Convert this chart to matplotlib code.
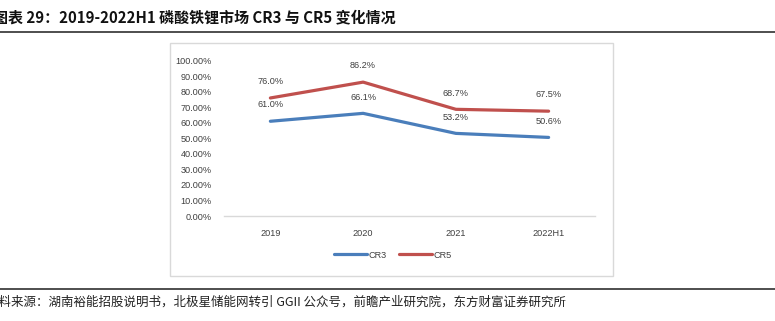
import matplotlib.pyplot as plt
from matplotlib.patches import Rectangle
from matplotlib.lines import Line2D

# 数据
years = ["2019", "2020", "2021", "2022H1"]
cr3 = [61.0, 66.1, 53.2, 50.6]
cr5 = [76.0, 86.2, 68.7, 67.5]
yticks = [0, 10, 20, 30, 40, 50, 60, 70, 80, 90, 100]

blue = "#4A7EBB"
red = "#C0504D"
W, H = 775, 321
fs = 6.6

fig = plt.figure(figsize=(W / 100, H / 100), dpi=100)

# 标题与上下分隔线
fig.text(-7 / W, 1 - 17 / H, "图表 29：2019-2022H1 磷酸铁锂市场 CR3 与 CR5 变化情况",
         family=["Noto Sans CJK SC", "DejaVu Sans"], fontsize=10.8, weight="bold",
         va="center", ha="left", color="#111111")
fig.add_artist(Line2D([0, 1], [1 - 31.5 / H] * 2, color="#404040", lw=1.3))
fig.add_artist(Line2D([0, 1], [1 - 289 / H] * 2, color="#404040", lw=1.3))
fig.text(-14 / W, 1 - 302 / H,
         "资料来源：湖南裕能招股说明书，北极星储能网转引 GGII 公众号，前瞻产业研究院，东方财富证券研究所",
         family=["Noto Sans CJK SC", "DejaVu Sans"], fontsize=9.0,
         va="center", ha="left", color="#222222")

# 图表外框
fig.add_artist(Rectangle((170 / W, 1 - 276 / H), (613 - 170) / W, (276 - 43) / H,
                         transform=fig.transFigure, fill=False, edgecolor="#D9D9D9", lw=1))

ax = fig.add_axes([224 / W, 1 - 216 / H, (595 - 224) / W, (216 - 60.7) / H])
x = range(len(years))
ax.plot(x, cr3, color=blue, lw=2.3, solid_capstyle="round", label="CR3")
ax.plot(x, cr5, color=red, lw=2.3, solid_capstyle="round", label="CR5")

for i in x:
    ax.annotate(f"{cr3[i]:.1f}%", (i, cr3[i]), xytext=(0, 8.5), textcoords="offset points",
                ha="center", va="bottom", fontsize=fs, family="Liberation Sans", color="#404040")
    ax.annotate(f"{cr5[i]:.1f}%", (i, cr5[i]), xytext=(0, 8.5), textcoords="offset points",
                ha="center", va="bottom", fontsize=fs, family="Liberation Sans", color="#404040")

ax.set_xlim(-0.5, len(years) - 0.5)
ax.set_ylim(0, 100)
ax.set_yticks(yticks)
ax.set_yticklabels([f"{v:.2f}%" for v in yticks])
ax.set_xticks(list(x))
ax.set_xticklabels(years)
for lab in ax.get_xticklabels() + ax.get_yticklabels():
    lab.set_fontfamily("Liberation Sans")
    lab.set_fontsize(fs)
    lab.set_color("#404040")
ax.tick_params(axis="both", length=0)
ax.tick_params(axis="y", pad=9)
ax.tick_params(axis="x", pad=9)
for s in ["top", "right", "left"]:
    ax.spines[s].set_visible(False)
ax.spines["bottom"].set_color("#D9D9D9")
ax.spines["bottom"].set_linewidth(1)

fig.legend(loc="center", bbox_to_anchor=(393 / W, 1 - 255 / H), ncol=2, frameon=False,
           prop={"family": "Liberation Sans", "size": fs}, handlelength=3.6,
           handletextpad=0.2, columnspacing=1.3, labelcolor="#404040")

fig.savefig("out.png", dpi=100)
